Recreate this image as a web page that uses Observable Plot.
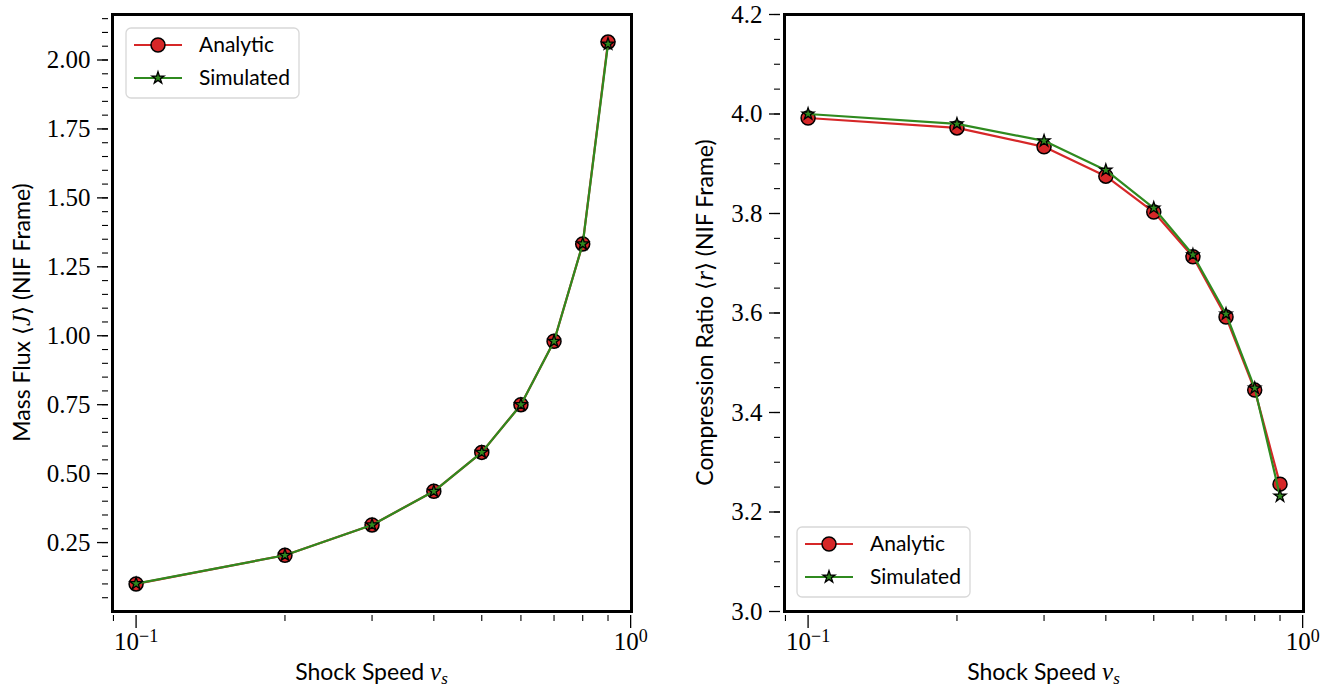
<!DOCTYPE html>
<html><head><meta charset="utf-8">
<script src="https://cdn.jsdelivr.net/npm/d3@7"></script>
<script src="https://cdn.jsdelivr.net/npm/@observablehq/plot@0.6"></script>
<style>
body{margin:0;background:#fff;}
#wrap{display:flex;width:1341px;height:688px;overflow:hidden;}
#wrap svg{display:block;}
</style></head><body><div id="wrap"></div>
<script>
// ---- data ----
const shockSpeed = [0.1, 0.2, 0.3, 0.4, 0.5, 0.6, 0.7, 0.8, 0.9];
const fluxAnalytic  = [0.100, 0.204, 0.314, 0.436, 0.577, 0.750, 0.980, 1.333, 2.065];
const fluxSimulated = [0.101, 0.204, 0.314, 0.436, 0.577, 0.750, 0.980, 1.333, 2.058];
const ratioAnalytic  = [3.992, 3.972, 3.934, 3.875, 3.803, 3.713, 3.592, 3.445, 3.256];
const ratioSimulated = [4.000, 3.980, 3.946, 3.887, 3.811, 3.717, 3.598, 3.449, 3.232];
const seriesNames = ["Analytic", "Simulated"];
const xMajorTicks = [0.1, 1];
const xMinorTicks = [0.09, 0.2, 0.3, 0.4, 0.5, 0.6, 0.7, 0.8, 0.9];
const fluxTicks = [0.25, 0.5, 0.75, 1.0, 1.25, 1.5, 1.75, 2.0];
const ratioTicks = [3.0, 3.2, 3.4, 3.6, 3.8, 4.0, 4.2];

const RED = "#d62728", GREEN = "#2f8a1f";
const SERIF = "'Liberation Serif', 'DejaVu Serif', serif";
const SANS = "Lato, 'Noto Sans', sans-serif";

function rows(ys) { return shockSpeed.map((x, i) => ({x, y: ys[i]})); }

function panel(o) {
  const a = rows(o.analytic), s = rows(o.simulated);
  const plot = Plot.plot({
    width: o.width, height: 688,
    marginLeft: o.marginLeft, marginRight: o.marginRight, marginTop: 14, marginBottom: 77,
    x: {type: "log", domain: [0.0896, 1.004]},
    y: {domain: o.yDomain},
    style: {background: "white", color: "black", overflow: "visible"},
    marks: [
      Plot.axisX(xMajorTicks, {tickSize: 13, dy: 4, tickPadding: 4, fontSize: 25, label: null, strokeWidth: 1.3,
        tickFormat: d => d === 1 ? "10^0" : "10^-1"}),
      Plot.axisX(xMinorTicks, {tickSize: 6, dy: 4, tickFormat: () => "", label: null, strokeWidth: 1.1}),
      Plot.axisY(o.yMajor, {tickSize: 11, dx: -4, tickPadding: 7, fontSize: 25, label: null, strokeWidth: 1.3,
        tickFormat: o.yFormat}),
      Plot.axisY(o.yMinor, {tickSize: 6, dx: -4, tickFormat: () => "", label: null, strokeWidth: 1.1}),
      Plot.line(a, {x: "x", y: "y", stroke: RED, strokeWidth: 2.2}),
      Plot.dot(a, {x: "x", y: "y", r: 7, fill: RED, stroke: "black", strokeWidth: 1.5}),
      Plot.line(s, {x: "x", y: "y", stroke: GREEN, strokeWidth: 2.2}),
      Plot.dot(s, {x: "x", y: "y", r: 3.8, symbol: "star", fill: GREEN, stroke: "black", strokeWidth: 1.3}),
      Plot.frame({stroke: "black", strokeWidth: 3})
    ]
  });
  const svg = d3.select(plot);
  svg.selectAll('g[aria-label="x-axis tick label"], g[aria-label="y-axis tick label"]')
    .style("font-family", SERIF).attr("font-family", SERIF);
  svg.selectAll('g[aria-label="x-axis tick label"] text, g[aria-label="y-axis tick label"] text')
    .style("font-family", SERIF);
  // superscript x tick labels
  svg.selectAll('g[aria-label="x-axis tick label"] text').each(function() {
    const t = d3.select(this), str = t.text();
    if (!str.includes("^")) return;
    const [base, exp] = str.split("^");
    t.text("");
    t.append("tspan").text(base);
    t.append("tspan").attr("dy", "-0.45em").attr("font-size", "0.72em").text(exp.replace("-", "\u2212"));
  });
  const W = o.width, L = o.marginLeft, R = o.marginRight;
  const cx = L + (W - L - R) / 2;
  // x label
  const xl = svg.append("text").attr("x", cx).attr("y", 680).attr("text-anchor", "middle")
    .style("font-family", SANS).attr("font-size", 23).attr("fill", "black");
  xl.append("tspan").text("Shock Speed ");
  xl.append("tspan").style("font-family", SERIF).attr("font-style", "italic").attr("font-size", 25).text("v");
  xl.append("tspan").style("font-family", SERIF).attr("font-style", "italic").attr("font-size", 17).attr("dy", 4).text("s");
  // y label
  const yl = svg.append("text").attr("transform", `translate(${o.ylabelX},${(14 + 611) / 2}) rotate(-90)`)
    .attr("text-anchor", "middle").attr("dy", "0.35em")
    .style("font-family", SANS).attr("font-size", 23).attr("fill", "black");
  yl.append("tspan").text(o.ylabel[0] + " \u27E8");
  yl.append("tspan").style("font-family", SERIF).attr("font-style", "italic").attr("font-size", 25).text(o.ylabel[1]);
  yl.append("tspan").text("\u27E9 " + o.ylabel[2]);
  // legend
  const [lx, ly] = o.legend;
  const g = svg.append("g").attr("transform", `translate(${lx},${ly})`);
  g.append("rect").attr("width", 173).attr("height", 70).attr("rx", 5)
    .attr("fill", "white").attr("fill-opacity", 0.85).attr("stroke", "#d8d8d8").attr("stroke-width", 1.3);
  [[RED, "circle", seriesNames[0], 17], [GREEN, "star", seriesNames[1], 50]].forEach(([c, sym, name, yy]) => {
    g.append("line").attr("x1", 8).attr("x2", 56).attr("y1", yy).attr("y2", yy).attr("stroke", c).attr("stroke-width", 2.2);
    if (sym === "circle") g.append("circle").attr("cx", 32).attr("cy", yy).attr("r", 7).attr("fill", c).attr("stroke", "black").attr("stroke-width", 1.5);
    else g.append("path").attr("d", d3.symbol(d3.symbolStar, 3.8 * 3.8 * Math.PI)()).attr("transform", `translate(32,${yy})`)
      .attr("fill", c).attr("stroke", "black").attr("stroke-width", 1.3);
    g.append("text").attr("x", 73).attr("y", yy).attr("dy", "0.35em").attr("text-anchor", "start")
      .style("font-family", SANS).attr("font-size", 21).attr("fill", "black").text(name);
  });
  return plot;
}

const wrap = document.getElementById("wrap");
wrap.append(panel({
  width: 660, marginLeft: 112, marginRight: 29,
  yDomain: [0.0, 2.165], yMajor: fluxTicks, yMinor: d3.range(0.05, 2.16, 0.05).map(v => +v.toFixed(2)),
  yFormat: d3.format(".2f"),
  analytic: fluxAnalytic, simulated: fluxSimulated,
  ylabel: ["Mass Flux", "J", "(NIF Frame)"], ylabelX: 22,
  legend: [126, 28]
}));
wrap.append(panel({
  width: 681, marginLeft: 124, marginRight: 38,
  yDomain: [3.0, 4.2], yMajor: ratioTicks, yMinor: d3.range(3.05, 4.2, 0.05).map(v => +v.toFixed(2)),
  yFormat: d3.format(".1f"),
  analytic: ratioAnalytic, simulated: ratioSimulated,
  ylabel: ["Compression Ratio", "r", "(NIF Frame)"], ylabelX: 45,
  legend: [137, 527]
}));
</script></body></html>
